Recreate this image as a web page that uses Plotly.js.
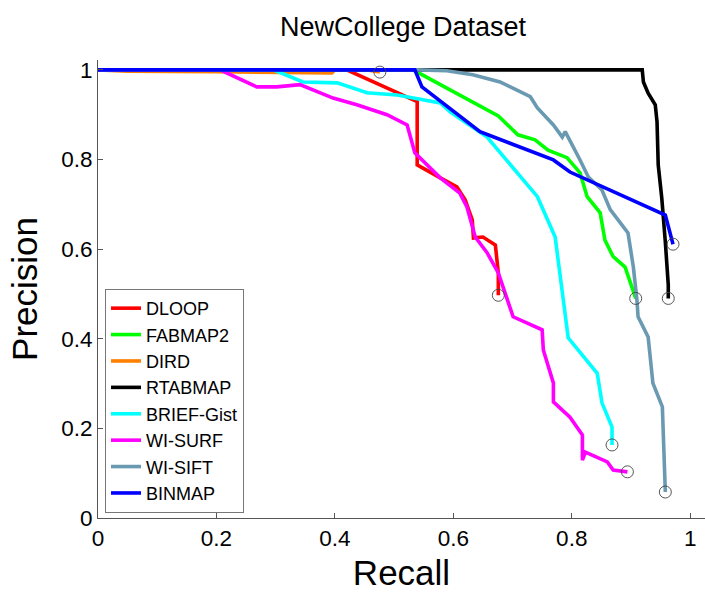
<!DOCTYPE html>
<html>
<head>
<meta charset="utf-8">
<script src="https://cdn.plot.ly/plotly-3.0.1.min.js"></script>
<style>html,body{margin:0;padding:0;background:#fff}#chart{width:705px;height:592px}</style>
</head>
<body>
<div id="chart"></div>
<script>
// Series names and colours
const seriesNames = ["DLOOP","FABMAP2","DIRD","RTABMAP","BRIEF-Gist","WI-SURF","WI-SIFT","BINMAP"];
const seriesColors = ["#ff0000","#00ff00","#ff8000","#000000","#00ffff","#ff00ff","#6a9ab2","#0000ff"];

// Recall (x) / Precision (y)
const dloopRecall    = [0, 0.42, 0.539, 0.539, 0.578, 0.606, 0.62, 0.632, 0.634, 0.65, 0.671, 0.676, 0.676];
const dloopPrecision = [1, 1, 0.929, 0.788, 0.759, 0.739, 0.71, 0.665, 0.625, 0.627, 0.609, 0.547, 0.497];

const fabmapRecall    = [0, 0.532, 0.676, 0.709, 0.738, 0.76, 0.792, 0.814, 0.826, 0.848, 0.856, 0.87, 0.89, 0.899, 0.908];
const fabmapPrecision = [1, 1, 0.897, 0.855, 0.844, 0.821, 0.804, 0.77, 0.717, 0.681, 0.62, 0.583, 0.56, 0.527, 0.49];

const dirdRecall    = [0, 0.05, 0.2, 0.395, 0.4, 0.455, 0.476];
const dirdPrecision = [1, 0.997, 0.996, 0.993, 1, 1, 0.995];

const rtabRecall    = [0, 0.919, 0.921, 0.929, 0.941, 0.944, 0.946, 0.952, 0.958, 0.963, 0.963];
const rtabPrecision = [1, 1, 0.973, 0.948, 0.922, 0.884, 0.788, 0.714, 0.616, 0.52, 0.49];

const briefRecall    = [0, 0.296, 0.346, 0.404, 0.454, 0.505, 0.578, 0.595, 0.657, 0.742, 0.772, 0.794, 0.843, 0.851, 0.868, 0.868];
const briefPrecision = [1, 1, 0.973, 0.971, 0.949, 0.944, 0.926, 0.906, 0.85, 0.717, 0.627, 0.402, 0.323, 0.257, 0.203, 0.163];

const surfRecall    = [0, 0.206, 0.268, 0.302, 0.341, 0.397, 0.437, 0.488, 0.522, 0.535, 0.578, 0.611, 0.623, 0.637, 0.657, 0.676, 0.701, 0.75, 0.752, 0.769, 0.769, 0.797, 0.818, 0.818, 0.823, 0.86, 0.87, 0.894];
const surfPrecision = [1, 1, 0.962, 0.962, 0.967, 0.937, 0.922, 0.9, 0.877, 0.815, 0.759, 0.725, 0.694, 0.627, 0.592, 0.547, 0.449, 0.42, 0.375, 0.301, 0.259, 0.225, 0.185, 0.129, 0.147, 0.125, 0.107, 0.103];

const siftRecall    = [0, 0.54, 0.589, 0.633, 0.679, 0.73, 0.742, 0.769, 0.784, 0.789, 0.814, 0.828, 0.851, 0.865, 0.895, 0.904, 0.91, 0.912, 0.929, 0.937, 0.953, 0.958];
const siftPrecision = [1, 1, 0.998, 0.989, 0.973, 0.94, 0.915, 0.877, 0.85, 0.862, 0.799, 0.761, 0.732, 0.688, 0.636, 0.56, 0.487, 0.449, 0.404, 0.301, 0.248, 0.058];

const binmapRecall    = [0, 0.535, 0.547, 0.645, 0.769, 0.797, 0.958, 0.971];
const binmapPrecision = [1, 1, 0.962, 0.862, 0.799, 0.772, 0.676, 0.611];

const tickValues = [0, 0.2, 0.4, 0.6, 0.8, 1];
const tickLabels = ["0","0.2","0.4","0.6","0.8","1"];

const recallSets = [dloopRecall, fabmapRecall, dirdRecall, rtabRecall, briefRecall, surfRecall, siftRecall, binmapRecall];
const precisionSets = [dloopPrecision, fabmapPrecision, dirdPrecision, rtabPrecision, briefPrecision, surfPrecision, siftPrecision, binmapPrecision];

const traces = seriesNames.map((name, i) => ({
  type: "scatter", mode: "lines", name: name,
  x: recallSets[i], y: precisionSets[i],
  line: {color: seriesColors[i], width: 3.6},
  hoverinfo: "skip"
}));

// End-point circles
traces.push({
  type: "scatter", mode: "markers", showlegend: false, hoverinfo: "skip",
  x: recallSets.map(a => a[a.length - 1]),
  y: precisionSets.map(a => a[a.length - 1]),
  marker: {symbol: "circle-open", size: 12, color: "#444", line: {width: 0.9, color: "#444"}}
});

const layout = {
  width: 705, height: 592,
  margin: {l: 98, r: 0, t: 60, b: 74, pad: 0},
  paper_bgcolor: "#fff", plot_bgcolor: "#fff",
  font: {family: "Liberation Sans, Arial, sans-serif", color: "#000"},
  title: {text: "NewCollege Dataset", font: {size: 27, color: "#000"}, x: 0.5025, xanchor: "center", xref: "paper", y: 0.955, yanchor: "middle"},
  xaxis: {
    range: [0, 1.025], showgrid: false, zeroline: false,
    showline: true, linecolor: "#555", linewidth: 1,
    ticks: "inside", ticklen: 5, tickcolor: "#555", tickwidth: 1,
    tickvals: tickValues, ticktext: tickLabels,
    tickfont: {size: 22.5, color: "#000"},
    title: {text: "Recall", font: {size: 35, color: "#000"}, standoff: 15}
  },
  yaxis: {
    range: [0, 1.022], showgrid: false, zeroline: false,
    showline: true, linecolor: "#555", linewidth: 1,
    ticks: "inside", ticklen: 5, tickcolor: "#555", tickwidth: 1,
    tickvals: tickValues, ticktext: tickLabels,
    tickfont: {size: 22.5, color: "#000"},
    title: {text: "Precision", font: {size: 35, color: "#000"}, standoff: 12}
  },
  legend: {
    x: 0.0115, y: 0.011, xanchor: "left", yanchor: "bottom",
    bgcolor: "#fff", bordercolor: "#777", borderwidth: 1,
    font: {size: 18, color: "#000"}, tracegroupgap: 0
  },
  showlegend: true
};

Plotly.newPlot("chart", traces, layout, {displayModeBar: false, staticPlot: true});
</script>
</body>
</html>
